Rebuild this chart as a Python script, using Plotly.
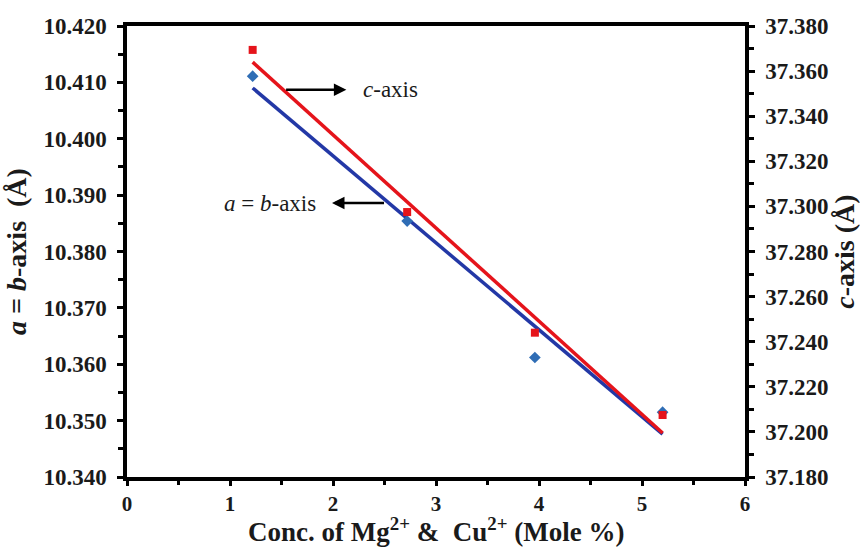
import plotly.graph_objects as go

# Data
conc = [1.22, 2.72, 3.96, 5.20]
ab_axis = [10.4111, 10.3854, 10.3612, 10.3515]     # left axis (blue diamonds)
c_axis = [37.3694, 37.2975, 37.2440, 37.2075]       # right axis (red squares)

fit_x = [1.22, 5.20]
ab_fit = [10.4090, 10.3476]
c_fit = [37.3640, 37.1995]

x_ticks = [0, 1, 2, 3, 4, 5, 6]

RED = "#E5141B"
BLUE_LINE = "#2338A6"
BLUE_MARK = "#2F6DB5"
FONT = "Liberation Serif, Times New Roman, serif"
TXT = "#1a1a1a"

fig = go.Figure()
fig.add_trace(go.Scatter(x=fit_x, y=ab_fit, mode="lines",
                         line=dict(color=BLUE_LINE, width=3.5), yaxis="y", showlegend=False))
fig.add_trace(go.Scatter(x=conc, y=ab_axis, mode="markers",
                         marker=dict(symbol="diamond", size=9, color=BLUE_MARK), yaxis="y", showlegend=False))
fig.add_trace(go.Scatter(x=fit_x, y=c_fit, mode="lines",
                         line=dict(color=RED, width=3.5), yaxis="y2", showlegend=False))
fig.add_trace(go.Scatter(x=conc, y=c_axis, mode="markers",
                         marker=dict(symbol="square", size=8, color=RED), yaxis="y2", showlegend=False))

tickfont = dict(family=FONT, size=23, color=TXT, weight="bold")
xtickfont = dict(family=FONT, size=21, color=TXT, weight="bold")
titlefont = dict(family=FONT, size=28, color=TXT)
xtitlefont = dict(family=FONT, size=27, color=TXT)

fig.update_layout(
    width=860, height=547,
    margin=dict(l=127, r=115, t=26, b=70),
    paper_bgcolor="white", plot_bgcolor="white",
    font=dict(family=FONT, color=TXT),
    xaxis=dict(
        range=[0, 6], tickvals=x_ticks, ticktext=[str(v) for v in x_ticks],
        showline=True, linewidth=3.5, linecolor="black", mirror=True,
        ticks="outside", ticklen=5, tickwidth=3, tickcolor="black",
        minor=dict(dtick=0.5, ticks="outside", ticklen=4, tickwidth=3, tickcolor="black"),
        showgrid=False, zeroline=False, automargin=False,
        tickfont=xtickfont, ticklabelstandoff=0,
    ),
    yaxis=dict(
        range=[10.34, 10.42], dtick=0.01, tick0=10.34, tickformat=".3f",
        showline=True, linewidth=3.5, linecolor="black",
        ticks="outside", ticklen=6, tickwidth=3, tickcolor="black",
        minor=dict(dtick=0.005, ticks="outside", ticklen=5, tickwidth=3, tickcolor="black"),
        showgrid=False, zeroline=False, automargin=False,
        tickfont=tickfont, ticklabelstandoff=6,
        title=dict(text="<b><i>a</i> = <i>b</i>-axis  (Å)</b>",
                   font=titlefont, standoff=10),
    ),
    yaxis2=dict(
        range=[37.18, 37.38], dtick=0.02, tick0=37.18, tickformat=".3f",
        overlaying="y", side="right",
        showline=True, linewidth=3.5, linecolor="black",
        ticks="outside", ticklen=6, tickwidth=3, tickcolor="black",
        minor=dict(dtick=0.01, ticks="outside", ticklen=5, tickwidth=3, tickcolor="black"),
        showgrid=False, zeroline=False, automargin=False,
        tickfont=tickfont, ticklabelstandoff=6,
        title=dict(text="<b><i>c</i>-axis (Å)</b>",
                   font=titlefont, standoff=2),
    ),
    annotations=[
        dict(x=0.5, y=-0.117, xref="paper", yref="paper", showarrow=False,
             xanchor="center", yanchor="middle",
             text="<b>Conc. of Mg<sup>2+</sup> &  Cu<sup>2+</sup> (Mole %)</b>", font=xtitlefont),
        dict(x=2.13, y=10.4087, xref="x", yref="y", ax=1.53, ay=10.4087, axref="x", ayref="y",
             showarrow=True, arrowhead=2, arrowsize=1, arrowwidth=2.5, arrowcolor="black", text=""),
        dict(x=2.56, y=10.4087, xref="x", yref="y", showarrow=False,
             text="<i>c</i>-axis", font=dict(family=FONT, size=23, color=TXT)),
        dict(x=1.99, y=10.3886, xref="x", yref="y", ax=2.51, ay=10.3886, axref="x", ayref="y",
             showarrow=True, arrowhead=2, arrowsize=1, arrowwidth=2.5, arrowcolor="black", text=""),
        dict(x=1.39, y=10.3886, xref="x", yref="y", showarrow=False,
             text="<i>a</i> = <i>b</i>-axis", font=dict(family=FONT, size=23, color=TXT)),
    ],
)

fig.write_html("out.html")
